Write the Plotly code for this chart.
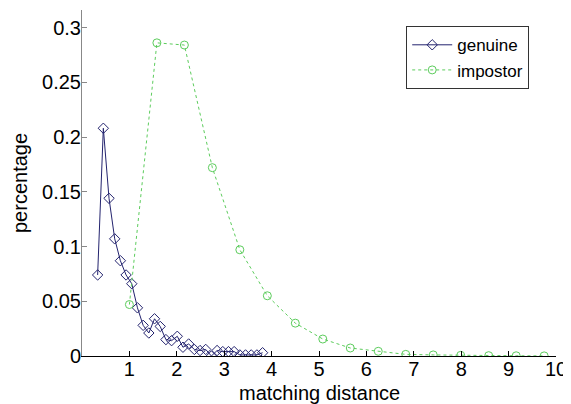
import plotly.graph_objects as go

# genuine distribution
genuine_x = [0.33, 0.45, 0.57, 0.69, 0.81, 0.93, 1.05, 1.17, 1.29, 1.41,
             1.53, 1.65, 1.77, 1.89, 2.01, 2.13, 2.25, 2.37, 2.49, 2.61,
             2.73, 2.85, 2.97, 3.09, 3.21, 3.33, 3.45, 3.57, 3.69, 3.81]
genuine_y = [0.074, 0.208, 0.144, 0.107, 0.087, 0.074, 0.066, 0.044, 0.028, 0.021,
             0.034, 0.027, 0.015, 0.014, 0.018, 0.008, 0.011, 0.006, 0.005, 0.006,
             0.000, 0.005, 0.004, 0.004, 0.004, 0.001, 0.001, 0.001, 0.001, 0.003]

# impostor distribution
impostor_x = [1.0, 1.58, 2.16, 2.75, 3.33, 3.91, 4.5, 5.08, 5.66, 6.25,
              6.83, 7.41, 7.99, 8.58, 9.16, 9.75]
impostor_y = [0.047, 0.286, 0.284, 0.172, 0.097, 0.055, 0.030, 0.0155, 0.0073, 0.0043,
              0.0015, 0.001, 0.0006, 0.0003, 0.0002, 0.0001]

x_ticks = [1, 2, 3, 4, 5, 6, 7, 8, 9, 10]
y_ticks = [0, 0.05, 0.1, 0.15, 0.2, 0.25, 0.3]
y_tick_labels = ["0", "0.05", "0.1", "0.15", "0.2", "0.25", "0.3"]

navy = "#23236e"
green = "#5ccc5c"
font = "Liberation Sans, Arial, sans-serif"

fig = go.Figure()
fig.add_trace(go.Scatter(
    x=genuine_x, y=genuine_y, name="genuine", mode="lines+markers",
    line=dict(color=navy, width=1),
    marker=dict(symbol="diamond-open", size=8, color=navy, line=dict(width=1)),
))
fig.add_trace(go.Scatter(
    x=impostor_x, y=impostor_y, name="impostor", mode="lines+markers",
    line=dict(color=green, width=1, dash="3px,3px"),
    marker=dict(symbol="circle-open", size=8, color=green, line=dict(width=1)),
))

# the page body adds an 8px offset; margins compensate for it
fig.update_layout(
    width=571, height=404,
    margin=dict(l=74, r=23, t=2, b=56, autoexpand=False),
    paper_bgcolor="white", plot_bgcolor="white",
    font=dict(family=font, size=20, color="black"),
    showlegend=True,
    legend=dict(
        x=0.684, y=0.953, xanchor="left", yanchor="top",
        bordercolor="#333333", borderwidth=1, bgcolor="white",
        font=dict(size=17), itemwidth=40, tracegroupgap=0,
        entrywidth=136, entrywidthmode="pixels",
    ),
    xaxis=dict(
        range=[0, 10], tickvals=x_ticks, ticktext=[str(v) for v in x_ticks],
        showline=True, linecolor="black", linewidth=1,
        ticks="inside", ticklen=5, tickcolor="black",
        showgrid=False, zeroline=False, automargin=False,
        tickfont=dict(size=20), ticklabelstandoff=-5,
    ),
    yaxis=dict(
        range=[0, 0.316], tickvals=y_ticks, ticktext=y_tick_labels,
        showline=True, linecolor="#888888", linewidth=1,
        ticks="inside", ticklen=5, tickcolor="#888888",
        showgrid=False, zeroline=False, automargin=False,
        tickfont=dict(size=20), ticklabelstandoff=-4,
    ),
    annotations=[
        dict(text="matching distance", xref="paper", yref="paper",
             x=0.5, y=0, yshift=-37, xanchor="center", yanchor="middle",
             showarrow=False, font=dict(size=20)),
        dict(text="percentage", xref="paper", yref="paper",
             x=0, y=0.5, xshift=-62, xanchor="center", yanchor="middle",
             textangle=-90, showarrow=False, font=dict(size=20)),
    ],
)

fig.write_html("out.html")
